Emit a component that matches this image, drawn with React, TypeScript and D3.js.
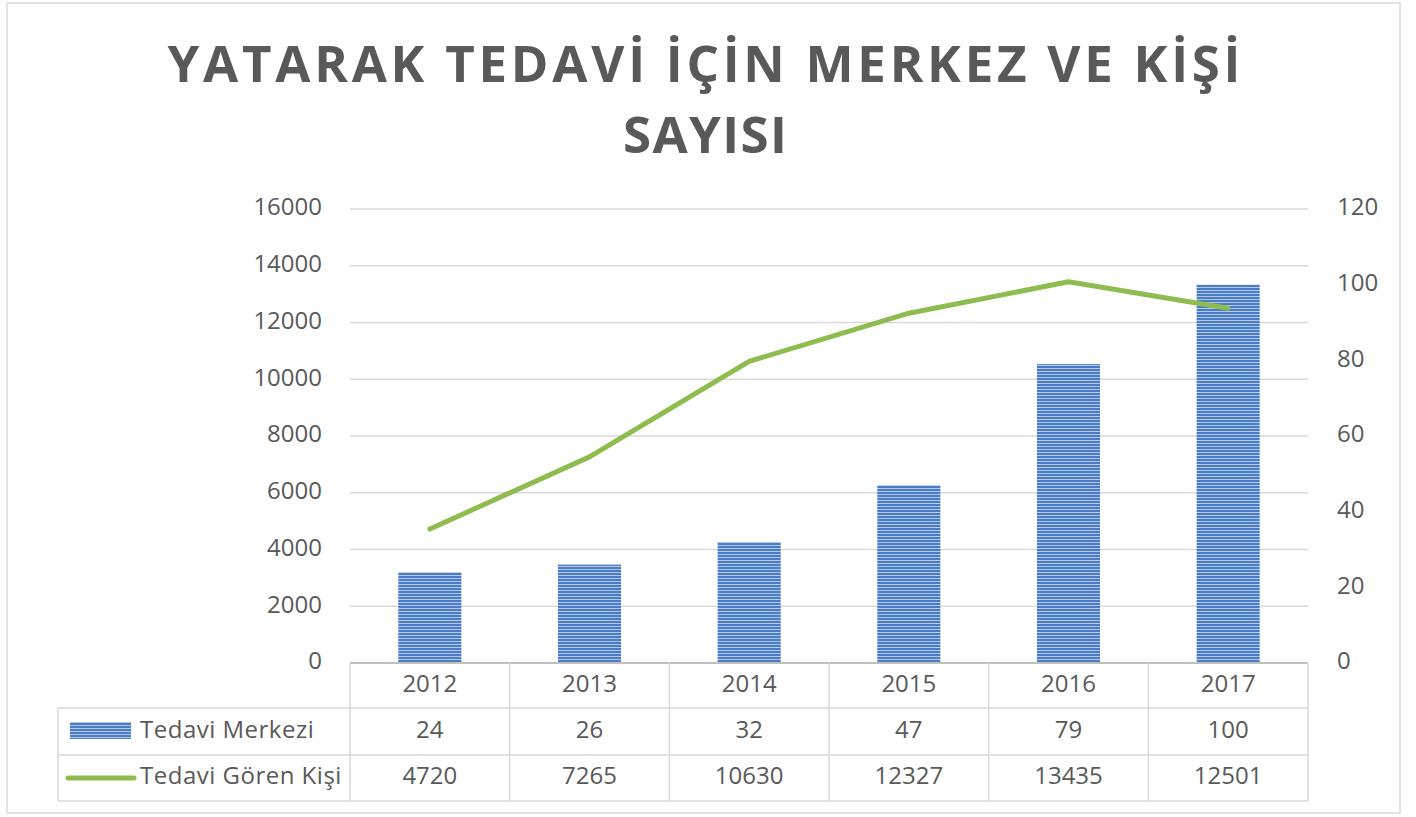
import React from "react";
import * as d3 from "d3";

const years = ["2012", "2013", "2014", "2015", "2016", "2017"];
const merkez = [24, 26, 32, 47, 79, 100];
const kisi = [4720, 7265, 10630, 12327, 13435, 12501];
const leftTicks = [0, 2000, 4000, 6000, 8000, 10000, 12000, 14000, 16000];
const rightTicks = [0, 20, 40, 60, 80, 100, 120];
const seriesNames = ["Tedavi Merkezi", "Tedavi Gören Kişi"];
const titleLines = ["YATARAK TEDAVİ İÇİN MERKEZ VE KİŞİ", "SAYISI"];

const W = 1416;
const H = 817;
const plot = { left: 350, right: 1308, top: 209, bottom: 663 };
const tableLeft = 58;
const rowBounds = [663, 708, 755, 801];

const FONT = "'Open Sans', 'Noto Sans', sans-serif";
const GRAY = "#595959";
const GRID = "#d9d9d9";
const BLUE = "#4a7cc4";
const GREEN = "#8fbc4f";

export default function App() {
  const x = d3.scaleBand<string>().domain(years).range([plot.left, plot.right]).paddingInner(0).paddingOuter(0);
  const yL = d3.scaleLinear().domain([0, 16000]).range([plot.bottom, plot.top]);
  const yR = d3.scaleLinear().domain([0, 120]).range([plot.bottom, plot.top]);
  const barW = x.bandwidth() * 0.395;
  const line = d3
    .line<number>()
    .x((_, i) => (x(years[i]) as number) + x.bandwidth() / 2)
    .y((d) => yL(d))
    .curve(d3.curveLinear);

  const colEdges = [tableLeft, ...years.map((y) => x(y) as number), plot.right];
  const tfs = 24;

  return (
    <svg
      width={W}
      height={H}
      style={{ position: "absolute", left: 0, top: 0, background: "#fff" }}
      fontFamily={FONT}
    >
      <defs>
        <pattern id="hstripe" width="6" height="3" patternUnits="userSpaceOnUse">
          <rect width="6" height="3" fill={BLUE} />
          <rect y="2" width="6" height="1" fill="#b3c9ec" />
        </pattern>
      </defs>
      <rect x={0} y={0} width={W} height={H} fill="#fff" />
      <rect x={7} y={3} width={1393} height={810} fill="#fff" stroke={GRID} strokeWidth={1.5} />

      {/* Title */}
      <text x={704} y={82} textAnchor="middle" fontSize={51} fontWeight={700} fill={GRAY} textLength={1073} lengthAdjust="spacing">
        {titleLines[0]}
      </text>
      <text x={705} y={153} textAnchor="middle" fontSize={51} fontWeight={700} fill={GRAY} textLength={164} lengthAdjust="spacing">
        {titleLines[1]}
      </text>

      {/* Gridlines */}
      {leftTicks.filter((t) => t > 0).map((t) => (
        <line key={t} x1={plot.left} x2={plot.right} y1={yL(t)} y2={yL(t)} stroke={GRID} strokeWidth={1.5} />
      ))}

      {/* Left axis labels */}
      {leftTicks.map((t) => (
        <text key={t} x={322} y={yL(t)} textAnchor="end" dominantBaseline="middle" fontSize={tfs} fill={GRAY}>
          {t}
        </text>
      ))}
      {/* Right axis labels */}
      {rightTicks.map((t) => (
        <text key={t} x={1337} y={yR(t)} textAnchor="start" dominantBaseline="middle" fontSize={tfs} fill={GRAY}>
          {t}
        </text>
      ))}

      {/* Bars */}
      {merkez.map((v, i) => {
        const cx = (x(years[i]) as number) + x.bandwidth() / 2;
        return (
          <rect key={i} x={cx - barW / 2} y={yR(v)} width={barW} height={yR(0) - yR(v)} fill="url(#hstripe)" />
        );
      })}

      {/* Line */}
      <path d={line(kisi) || ""} fill="none" stroke={GREEN} strokeWidth={5} strokeLinejoin="round" strokeLinecap="round" />

      {/* Data table */}
      <line x1={plot.left} x2={plot.right} y1={rowBounds[0]} y2={rowBounds[0]} stroke="#bfbfbf" strokeWidth={2} />
      {rowBounds.slice(1).map((yy, i) => (
        <line key={i} x1={tableLeft} x2={plot.right} y1={yy} y2={yy} stroke={GRID} strokeWidth={1.5} />
      ))}
      {colEdges.map((xx, i) => (
        <line
          key={i}
          x1={xx}
          x2={xx}
          y1={i === 0 ? rowBounds[1] : rowBounds[0]}
          y2={rowBounds[3]}
          stroke={GRID}
          strokeWidth={1.5}
        />
      ))}
      {years.map((yr, i) => {
        const cx = (x(yr) as number) + x.bandwidth() / 2;
        return (
          <g key={yr}>
            <text x={cx} y={(rowBounds[0] + rowBounds[1]) / 2} textAnchor="middle" dominantBaseline="middle" fontSize={tfs} fill={GRAY}>
              {yr}
            </text>
            <text x={cx} y={(rowBounds[1] + rowBounds[2]) / 2} textAnchor="middle" dominantBaseline="middle" fontSize={tfs} fill={GRAY}>
              {merkez[i]}
            </text>
            <text x={cx} y={(rowBounds[2] + rowBounds[3]) / 2} textAnchor="middle" dominantBaseline="middle" fontSize={tfs} fill={GRAY}>
              {kisi[i]}
            </text>
          </g>
        );
      })}
      {/* Legend keys */}
      <rect x={70} y={722} width={61} height={17} fill="url(#hstripe)" />
      <line x1={68} x2={134} y1={778} y2={778} stroke={GREEN} strokeWidth={5} strokeLinecap="round" />
      <text x={140} y={(rowBounds[1] + rowBounds[2]) / 2} dominantBaseline="middle" fontSize={tfs} fill={GRAY} letterSpacing={0.5}>
        {seriesNames[0]}
      </text>
      <text x={140} y={(rowBounds[2] + rowBounds[3]) / 2} dominantBaseline="middle" fontSize={tfs} fill={GRAY} letterSpacing={0.5}>
        {seriesNames[1]}
      </text>
    </svg>
  );
}
